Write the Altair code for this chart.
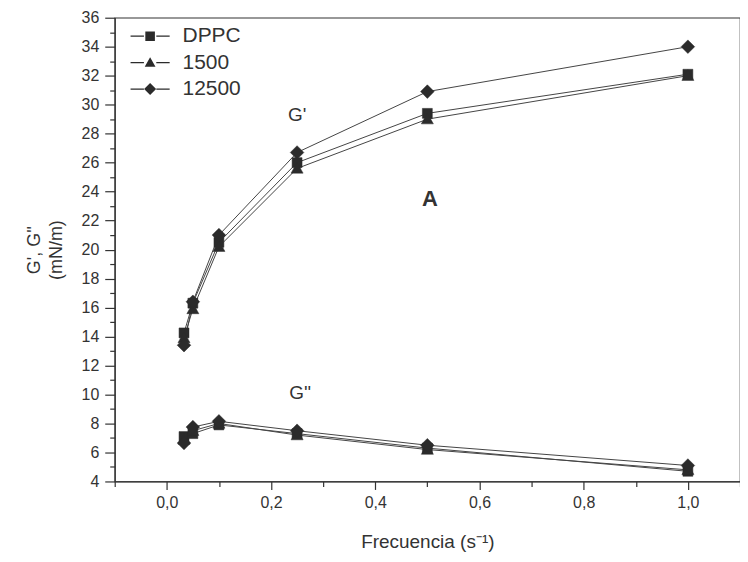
import altair as alt
import pandas as pd

# ---- data ----
freq = [0.033, 0.05, 0.1, 0.25, 0.5, 1.0]
series_names = ["DPPC", "1500", "12500"]
g1_dppc = [14.25, 16.3, 20.5, 26.0, 29.4, 32.1]
g1_1500 = [13.9, 15.9, 20.2, 25.6, 29.0, 32.0]
g1_12500 = [13.4, 16.4, 21.0, 26.7, 30.9, 34.0]
g2_dppc = [7.1, 7.3, 7.9, 7.3, 6.3, 4.7]
g2_1500 = [6.9, 7.5, 8.0, 7.2, 6.2, 4.8]
g2_12500 = [6.65, 7.75, 8.15, 7.5, 6.5, 5.1]

ann_text = ["G'", "A", "G''"]
ann_x = [0.25, 0.505, 0.256]
ann_y = [29.3, 23.5, 10.1]

rows = []
for curve, sets in (("G1", [g1_dppc, g1_1500, g1_12500]), ("G2", [g2_dppc, g2_1500, g2_12500])):
    for name, vals in zip(series_names, sets):
        for f, v in zip(freq, vals):
            rows.append({"freq": f, "val": v, "series": name, "lg": name,
                         "curve": curve, "grp": curve + name})
df = pd.DataFrame(rows)
ann = pd.DataFrame({"t": ann_text, "freq": ann_x, "val": ann_y})

FONT = "Liberation Sans"
INK = "#333333"
MK = "#2b2b2b"

pt_shapes = ["M-0.95,-0.95H0.95V0.95H-0.95Z",
             "M0,-1.15L1.15,0.9H-1.15Z",
             "M0,-1.3L1.3,0L0,1.3L-1.3,0Z"]
# legend symbols: thin filled bars on both sides of the marker
stub = "M-4.9,-0.16H-1.55V0.16H-4.9ZM1.55,-0.16H4.9V0.16H1.55Z"
lg_shapes = [stub + "M-1.2,-1.2H1.2V1.2H-1.2Z",
             stub + "M0,-1.35L1.35,1.05H-1.35Z",
             stub + "M0,-1.5L1.5,0L0,1.5L-1.5,0Z"]

xvals = [round(-0.1 + 0.1 * i, 1) for i in range(13)]
yvals = list(range(4, 37))

xaxis = alt.Axis(
    values=xvals, grid=False, title="Frecuencia (s⁻¹)",
    labelExpr="round(datum.value*10)%2==0 ? replace(format(datum.value,'.1f'),'.',',') : ''",
    tickSize={"condition": {"test": "round(datum.value*10)%2==0", "value": 8}, "value": 5},
    labelFontSize=16, titleFontSize=19, labelPadding=5, titlePadding=22,
    labelFont=FONT, titleFont=FONT, labelColor=INK, titleColor=INK, titleFontWeight="normal",
    domainColor=INK, tickColor=INK, domainWidth=1.2, tickWidth=1.2, labelFlush=False,
    labelOverlap=False,
)
yaxis = alt.Axis(
    values=yvals, grid=False, title=["G', G''", "(mN/m)"],
    labelExpr="datum.value%2==0 ? format(datum.value,'d') : ''",
    tickSize={"condition": {"test": "datum.value%2==0", "value": 10}, "value": 5},
    labelFontSize=16, titleFontSize=18, labelPadding=6, titlePadding=16,
    labelFont=FONT, titleFont=FONT, labelColor=INK, titleColor=INK, titleFontWeight="normal",
    domainColor=INK, tickColor=INK, domainWidth=1.2, tickWidth=1.2, labelFlush=False,
    labelOverlap=False, titleLineHeight=22,
)

xs = alt.Scale(domain=[-0.1, 1.1], nice=False, zero=False)
ys = alt.Scale(domain=[4, 36], nice=False, zero=False)
X = alt.X("freq:Q", scale=xs, axis=xaxis)
Y = alt.Y("val:Q", scale=ys, axis=yaxis)

base = alt.Chart(df)
lines = base.mark_line(color="#444444", strokeWidth=1).encode(
    x=X, y=Y, detail="grp:N", order="freq:Q",
)
points = base.mark_point(filled=True, fill=MK, stroke=MK, strokeWidth=0.5, size=110, opacity=1).encode(
    x=X, y=Y,
    shape=alt.Shape("series:N", scale=alt.Scale(domain=series_names, range=pt_shapes), legend=None),
)
legend_layer = base.mark_point(filled=True, size=64, opacity=1).encode(
    x=X, y=Y,
    fill=alt.value(MK),
    shape=alt.Shape("lg:N", scale=alt.Scale(domain=series_names, range=lg_shapes),
                    legend=alt.Legend(orient="none", legendX=25, legendY=8, title=None,
                                      labelFontSize=21, labelFont=FONT, labelColor=INK,
                                      labelOffset=22, rowPadding=4.5, padding=0,
                                      symbolSize=64, symbolFillColor=MK)),
).transform_filter("datum.freq < -5")

ann_base = alt.Chart(ann)
texts = ann_base.mark_text(font=FONT, color=INK, fontSize=19).encode(
    x=X, y=Y, text="t:N",
).transform_filter("datum.t != 'A'")
text_a = ann_base.mark_text(font=FONT, color=INK, fontSize=22, fontWeight="bold").encode(
    x=X, y=Y, text="t:N",
).transform_filter("datum.t == 'A'")

chart = alt.layer(lines, points, legend_layer, texts, text_a).resolve_scale(shape="independent").properties(
    width=627, height=465,
    padding={"left": 107, "top": 9, "right": 0, "bottom": 70},
    autosize=alt.AutoSizeParams(type="none"),
).configure_view(stroke=INK, strokeWidth=1.2)

chart.save("out.html", embed_options={"renderer": "svg", "actions": False})
